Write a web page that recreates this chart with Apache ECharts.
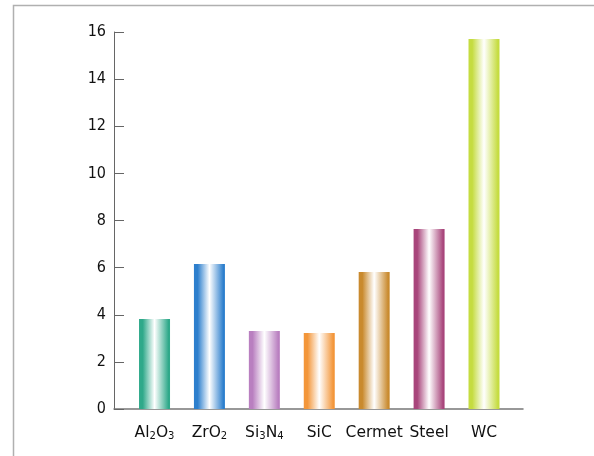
<!DOCTYPE html>
<html><head><meta charset="utf-8">
<script src="https://cdn.jsdelivr.net/npm/echarts@6/dist/echarts.min.js"></script>
<style>html,body{margin:0;padding:0;background:#fff}#c{width:594px;height:456px}</style>
</head><body><div id="c"></div>
<script>
const categories = ['Al2O3','ZrO2','Si3N4','SiC','Cermet','Steel','WC'];
const categoryLabels = ['{n|Al}{s|2}{n|O}{s|3}','{n|ZrO}{s|2}','{n|Si}{s|3}{n|N}{s|4}','{n|SiC}','{n|Cermet}','{n|Steel}','{n|WC}'];
const values = [3.82, 6.15, 3.31, 3.23, 5.81, 7.64, 15.7];
const colors = ['#2fa98a','#2d7fcd','#b97fc0','#f3963a','#c98a2e','#a8457b','#c5dc40'];
const yTicks = [0,2,4,6,8,10,12,14,16];

const chart = echarts.init(document.getElementById('c'), null, {renderer:'canvas'});
const font = '"DejaVu Sans",sans-serif';
const fontC = '"DejaVu Sans Condensed","DejaVu Sans",sans-serif';
chart.setOption({
  animation:false,
  backgroundColor:'#fff',
  grid:{left:114,right:71,top:32,bottom:47},
  xAxis:{
    type:'value', min:-0.738, max:6.71,
    splitLine:{show:false},
    axisLine:{show:true,onZero:false,lineStyle:{color:'#777',width:1.5}},
    axisTick:{show:false},
    axisLabel:{
      customValues:[0,1,2,3,4,5,6],
      margin:14,
      formatter:function(v){return categoryLabels[Math.round(v)];},
      rich:{
        n:{fontFamily:font,fontSize:15.5,color:'#111',verticalAlign:'bottom',lineHeight:18},
        s:{fontFamily:font,fontSize:10,color:'#111',verticalAlign:'bottom',lineHeight:16}
      }
    }
  },
  yAxis:{
    type:'value', min:yTicks[0], max:yTicks[yTicks.length-1], interval:2,
    splitLine:{show:false},
    axisLine:{show:true,onZero:false,lineStyle:{color:'#666',width:1}},
    axisTick:{show:true,inside:true,length:10,lineStyle:{color:'#666'}},
    axisLabel:{margin:8,fontFamily:fontC,fontSize:16,color:'#111'}
  },
  series:[{
    type:'bar',
    barWidth:31,
    data: values.map(function(v,i){
      return {value:[i,v], itemStyle:{color:new echarts.graphic.LinearGradient(0,0,1,0,[
        {offset:0,color:colors[i]},
        {offset:0.12,color:colors[i]},
        {offset:0.5,color:'#ffffff'},
        {offset:0.95,color:colors[i]},
        {offset:1,color:colors[i]}
      ])}};
    })
  }],
  graphic:[{
    type:'polyline',
    shape:{points:[[13.5,456],[13.5,5.5],[594,5.5]]},
    style:{stroke:'#b0b0b0',lineWidth:1.5,fill:null},
    silent:true
  }]
});
</script></body></html>
